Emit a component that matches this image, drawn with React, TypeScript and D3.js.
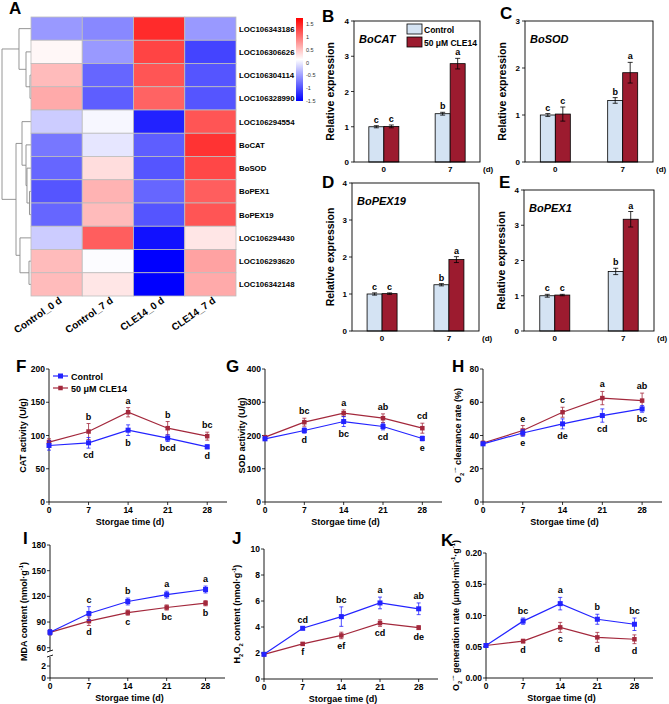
import React from 'react';
import * as d3 from 'd3';

const FONT = '"Liberation Sans", Arial, Helvetica, sans-serif';
const BLUE = '#2323ff';
const RED = '#a3283c';
const BAR_CTRL = '#d4e3f3';
const BAR_CLE = '#9c1b2f';

// ---------- A: heatmap ----------
const genes = [
  'LOC106343186', 'LOC106306626', 'LOC106304114', 'LOC106328990', 'LOC106294554',
  'BoCAT', 'BoSOD', 'BoPEX1', 'BoPEX19', 'LOC106294430', 'LOC106293620', 'LOC106342148',
];
const samples = ['Control_0 d', 'Control_7 d', 'CLE14_0 d', 'CLE14_7 d'];
const zRows = [
  [-0.6, -0.7, 1.25, -0.6],
  [0.05, -0.6, 1.1, -1.1],
  [0.4, -0.9, 1.0, -1.0],
  [0.5, -0.95, 0.92, -1.0],
  [-0.3, -0.05, -1.3, 1.0],
  [-0.8, -0.15, -0.95, 1.2],
  [-0.9, 0.2, -1.0, 1.08],
  [-1.0, 0.45, -0.9, 0.95],
  [-0.9, 0.4, -1.0, 1.0],
  [-0.3, 0.95, -1.4, 0.15],
  [0.4, -0.02, -1.5, 0.55],
  [0.4, 0.15, -1.5, 0.5],
];
const scaleTicks = [1.5, 1, 0.5, 0, -0.5, -1, -1.5];
// row clustering, h = merge height
const rowTree = {
  h: 10, children: [
    { h: 4.14, children: [{ leaf: 0 }, { h: 1.72, children: [{ leaf: 1 }, { h: 0.34, children: [{ leaf: 2 }, { leaf: 3 }] }] }] },
    { h: 5.17, children: [
      { h: 3.1, children: [{ leaf: 4 }, { h: 1.72, children: [{ leaf: 5 }, { h: 1.38, children: [{ leaf: 6 }, { h: 0.52, children: [{ leaf: 7 }, { leaf: 8 }] }] }] }] },
      { h: 3.8, children: [{ leaf: 9 }, { h: 0.69, children: [{ leaf: 10 }, { leaf: 11 }] }] },
    ] },
  ],
};

// ---------- B-E: relative expression ----------
const qDays = ['0', '7'];
const catCtrl = [1.0, 1.37], catCtrlErr = [0.03, 0.04], catCle = [1.01, 2.79], catCleErr = [0.04, 0.15];
const sodCtrl = [1.0, 1.31], sodCtrlErr = [0.03, 0.06], sodCle = [1.02, 1.9], sodCleErr = [0.15, 0.22];
const pex19Ctrl = [1.0, 1.25], pex19CtrlErr = [0.03, 0.03], pex19Cle = [1.01, 1.93], pex19CleErr = [0.02, 0.08];
const pex1Ctrl = [1.0, 1.69], pex1CtrlErr = [0.04, 0.09], pex1Cle = [1.02, 3.17], pex1CleErr = [0.02, 0.22];
const qCtrlSig = ['c', 'b'];
const qCleSig = ['c', 'a'];

// ---------- F-K: storage time ----------
const days = [0, 7, 14, 21, 28];
const catActCtrl = [85, 89, 108, 96, 83], catActCtrlErr = [7, 8, 8, 5, 3];
const catActCle = [90, 106, 135, 111, 99], catActCleErr = [5, 12, 7, 10, 6];
const catActCtrlSig = ['', 'cd', 'b', 'bcd', 'd'], catActCleSig = ['', 'b', 'a', 'b', 'bc'];

const sodActCtrl = [190, 215, 242, 227, 191], sodActCtrlErr = [5, 8, 15, 10, 7];
const sodActCle = [195, 240, 267, 252, 222], sodActCleErr = [5, 12, 10, 13, 15];
const sodActCtrlSig = ['', 'd', 'bc', 'cd', 'e'], sodActCleSig = ['', 'bc', 'a', 'ab', 'cd'];

const clearCtrl = [35, 41.5, 47, 52, 56], clearCtrlErr = [1, 2, 3, 4, 2];
const clearCle = [35.5, 43, 54, 62.5, 61], clearCleErr = [1, 3, 3, 4, 4.5];
const clearCtrlSig = ['', 'e', 'de', 'cd', 'bc'], clearCleSig = ['', 'e', 'c', 'a', 'ab'];

const mdaCtrl = [78, 100, 114, 122, 128], mdaCtrlErr = [3, 8, 4, 4, 4];
const mdaCle = [78, 91, 101, 107, 112], mdaCleErr = [3, 5, 3, 3, 3];
const mdaCtrlSig = ['', 'c', 'b', 'a', 'a'], mdaCleSig = ['', 'd', 'c', 'bc', 'b'];

const h2o2Ctrl = [1.9, 3.9, 4.8, 5.85, 5.4], h2o2CtrlErr = [0.08, 0.1, 0.75, 0.45, 0.45];
const h2o2Cle = [1.9, 2.7, 3.35, 4.3, 3.95], h2o2CleErr = [0.08, 0.1, 0.25, 0.25, 0.15];
const h2o2CtrlSig = ['', 'cd', 'bc', 'a', 'ab'], h2o2CleSig = ['', 'f', 'ef', 'cd', 'de'];

const o2genCtrl = [0.052, 0.091, 0.119, 0.094, 0.086], o2genCtrlErr = [0.002, 0.005, 0.01, 0.008, 0.01];
const o2genCle = [0.052, 0.059, 0.081, 0.065, 0.062], o2genCleErr = [0.002, 0.003, 0.008, 0.008, 0.007];
const o2genCtrlSig = ['', 'bc', 'a', 'b', 'bc'], o2genCleSig = ['', 'd', 'c', 'd', 'd'];

// rich label: segments with sub/sup
function Rich({ segs, size }) {
  const off = { n: 0, sub: 2.5, sup: -4 };
  let cur = 0;
  return (
    <>
      {segs.map((s, i) => {
        const k = s.sub ? 'sub' : s.sup ? 'sup' : 'n';
        const dy = off[k] - cur;
        cur = off[k];
        return (
          <tspan key={i} dy={dy} fontSize={k === 'n' ? size : size * 0.65}>{s.t}</tspan>
        );
      })}
    </>
  );
}

function Heatmap() {
  const x = d3.scaleBand().domain(samples).range([31, 236]);
  const y = d3.scaleBand().domain(genes).range([17, 296]);
  const color = d3.scaleLinear<string>().domain([-1.5, 0, 1.5]).range(['#0000ff', '#ffffff', '#ff0000']);
  const dx = d3.scaleLinear().domain([0, 10]).range([31, 2]);
  const root: any = d3.hierarchy(rowTree as any);
  root.eachAfter((n: any) => {
    if (n.data.leaf !== undefined) {
      n.px = 31;
      n.py = y(genes[n.data.leaf])! + y.bandwidth() / 2;
    } else {
      n.px = dx(n.data.h);
      n.py = d3.mean(n.children, (c: any) => c.py);
    }
  });
  const paths: string[] = [];
  root.each((n: any) => {
    if (n.children) {
      const [a, b] = n.children;
      paths.push(`M${a.px},${a.py}H${n.px}V${b.py}H${b.px}`);
    }
  });
  const cb = d3.scaleLinear().domain([-1.5, 1.5]).range([101, 24]);
  return (
    <g>
      <defs>
        <linearGradient id="hmgrad" x1="0" y1="0" x2="0" y2="1">
          <stop offset="0%" stopColor="#ff0000" />
          <stop offset="50%" stopColor="#ffffff" />
          <stop offset="100%" stopColor="#0000ff" />
        </linearGradient>
      </defs>
      {paths.map((d, i) => <path key={i} d={d} fill="none" stroke="#8a8a8a" strokeWidth={0.9} />)}
      {zRows.map((row, ri) => row.map((v, ci) => (
        <rect key={`${ri}-${ci}`} x={x(samples[ci])} y={y(genes[ri])} width={x.bandwidth()} height={y.bandwidth()}
          fill={color(v)} stroke="#bdbdbd" strokeWidth={0.8} />
      )))}
      {genes.map(g => (
        <text key={g} x={239} y={y(g)! + y.bandwidth() / 2 + 3} fontSize={7.8} fontWeight="bold" fontFamily={FONT}>{g}</text>
      ))}
      {samples.map(s => {
        const cx = x(s)! + x.bandwidth() / 2 + 6;
        return (
          <text key={s} transform={`translate(${cx},302) rotate(-35)`} textAnchor="end" fontSize={10} fontWeight="bold" fontFamily={FONT}>{s}</text>
        );
      })}
      <rect x={296} y={18} width={7} height={83} fill="url(#hmgrad)" />
      {scaleTicks.map(t => (
        <text key={t} x={306} y={cb(t) + 2} fontSize={5.5} fontFamily={FONT} fill="#333">{t}</text>
      ))}
    </g>
  );
}

function BarPanel({ left, right, top, bottom, yMax, name, ctrl, ctrlErr, cle, cleErr, legend, ylabelX }: any) {
  const x = d3.scalePoint().domain(qDays).range([left, right]).padding(0.45);
  const y = d3.scaleLinear().domain([0, yMax]).range([bottom, top]);
  const bw = 15;
  const ticks = d3.range(0, yMax + 1);
  const err = (cx: number, v: number, e: number) => (
    <g stroke="#000" strokeWidth={0.8}>
      <line x1={cx} x2={cx} y1={y(v + e)} y2={y(v - e)} />
      <line x1={cx - 2.5} x2={cx + 2.5} y1={y(v + e)} y2={y(v + e)} />
      <line x1={cx - 2.5} x2={cx + 2.5} y1={y(v - e)} y2={y(v - e)} />
    </g>
  );
  return (
    <g fontFamily={FONT} fontWeight="bold">
      {qDays.map((d, i) => {
        const cx = x(d)!;
        return (
          <g key={d}>
            <rect x={cx - bw} y={y(ctrl[i])} width={bw} height={bottom - y(ctrl[i])} fill={BAR_CTRL} stroke="#000" strokeWidth={0.8} />
            <rect x={cx} y={y(cle[i])} width={bw} height={bottom - y(cle[i])} fill={BAR_CLE} stroke="#000" strokeWidth={0.8} />
            {err(cx - bw / 2, ctrl[i], ctrlErr[i])}
            {err(cx + bw / 2, cle[i], cleErr[i])}
            <text x={cx - bw / 2} y={y(ctrl[i] + ctrlErr[i]) - 3} textAnchor="middle" fontSize={9}>{qCtrlSig[i]}</text>
            <text x={cx + bw / 2} y={y(cle[i] + cleErr[i]) - 3} textAnchor="middle" fontSize={9}>{qCleSig[i]}</text>
            <text x={cx} y={bottom + 10} textAnchor="middle" fontSize={8}>{d}</text>
          </g>
        );
      })}
      <rect x={left} y={top} width={right - left} height={bottom - top} fill="none" stroke="#000" strokeWidth={0.9} />
      {ticks.map(t => (
        <g key={t}>
          <line x1={left - 3} x2={left} y1={y(t)} y2={y(t)} stroke="#000" strokeWidth={0.8} />
          <text x={left - 5} y={y(t) + 3} textAnchor="end" fontSize={8}>{t}</text>
        </g>
      ))}
      <text x={right + 3} y={bottom + 10} fontSize={8}>(d)</text>
      <text x={left + 5} y={top + 22} fontSize={11} fontStyle="italic">{name}</text>
      <text transform={`translate(${ylabelX},${(top + bottom) / 2}) rotate(-90)`} textAnchor="middle" fontSize={10.5}>Relative expression</text>
      {legend && (
        <g>
          <rect x={407} y={top + 3} width={15} height={10} fill={BAR_CTRL} stroke="#000" strokeWidth={0.8} />
          <rect x={407} y={top + 16} width={15} height={10} fill={BAR_CLE} stroke="#000" strokeWidth={0.8} />
          <text x={424} y={top + 12} fontSize={8.5}>Control</text>
          <text x={424} y={top + 25} fontSize={8.5}>50 μM CLE14</text>
        </g>
      )}
    </g>
  );
}

function LinePanel(p: any) {
  const x = d3.scaleLinear().domain([0, 31.5]).range([p.left, p.right]);
  let y: (v: number) => number;
  let tickPos: { v: number; label: string }[];
  if (p.broken) {
    const up = d3.scaleLinear().domain([55, 180]).range([652, p.top]);
    const lo = d3.scaleLinear().domain([0, 3]).range([p.bottom, 660]);
    y = v => (v >= 50 ? up(v) : lo(v));
    tickPos = [...[0, 2], ...[60, 90, 120, 150, 180]].map(v => ({ v, label: String(v) }));
  } else {
    const s = d3.scaleLinear().domain(p.yDomain).range([p.bottom, p.top]);
    y = s;
    tickPos = p.yTicks.map((v: number) => ({ v, label: p.fmt ? p.fmt(v) : String(v) }));
  }
  const line = d3.line<number>().x((_, i) => x(days[i])).y(v => y(v));
  const series = [
    { vals: p.cle, errs: p.cleErr, sig: p.cleSig, color: RED, above: p.upper === 'cle', size: 4.5 },
    { vals: p.ctrl, errs: p.ctrlErr, sig: p.ctrlSig, color: BLUE, above: p.upper === 'ctrl', size: 5 },
  ];
  return (
    <g fontFamily={FONT} fontWeight="bold">
      {p.broken ? (
        <g stroke="#000" strokeWidth={0.9}>
          <line x1={p.left} x2={p.left} y1={p.top} y2={651} />
          <line x1={p.left} x2={p.left} y1={657} y2={p.bottom} />
          <line x1={p.left - 3} x2={p.left + 3} y1={652} y2={650} />
          <line x1={p.left - 3} x2={p.left + 3} y1={657} y2={655} />
        </g>
      ) : (
        <line x1={p.left} x2={p.left} y1={p.top} y2={p.bottom} stroke="#000" strokeWidth={0.9} />
      )}
      <line x1={p.left} x2={p.right} y1={p.bottom} y2={p.bottom} stroke="#000" strokeWidth={0.9} />
      {tickPos.map(t => (
        <g key={t.v}>
          <line x1={p.left - 3} x2={p.left} y1={y(t.v)} y2={y(t.v)} stroke="#000" strokeWidth={0.8} />
          <text x={p.left - 4} y={y(t.v) + 3} textAnchor="end" fontSize={8.5}>{t.label}</text>
        </g>
      ))}
      {days.map(d => (
        <g key={d}>
          <line x1={x(d)} x2={x(d)} y1={p.bottom} y2={p.bottom + 3} stroke="#000" strokeWidth={0.8} />
          <text x={x(d)} y={p.bottom + 11} textAnchor="middle" fontSize={8.5}>{d}</text>
        </g>
      ))}
      <text x={(p.left + p.right) / 2 - 8} y={p.bottom + 23} textAnchor="middle" fontSize={9}>Storgae time (d)</text>
      <text transform={`translate(${p.ylabelX},${(p.top + p.bottom) / 2}) rotate(-90)`} textAnchor="middle" fontSize={9}>
        <Rich segs={p.ylabel} size={9} />
      </text>
      {series.map((s, si) => (
        <g key={si}>
          <path d={line(s.vals)!} fill="none" stroke={s.color} strokeWidth={1.2} />
          {s.vals.map((v: number, i: number) => {
            const cx = x(days[i]);
            const e = s.errs[i];
            return (
              <g key={i}>
                <g stroke={s.color} strokeWidth={0.8}>
                  <line x1={cx} x2={cx} y1={y(v + e)} y2={y(v - e)} />
                  <line x1={cx - 2} x2={cx + 2} y1={y(v + e)} y2={y(v + e)} />
                  <line x1={cx - 2} x2={cx + 2} y1={y(v - e)} y2={y(v - e)} />
                </g>
                <rect x={cx - s.size / 2} y={y(v) - s.size / 2} width={s.size} height={s.size} fill={s.color} />
                {s.sig[i] && (
                  <text x={cx} y={s.above ? y(v + e) - 4 : y(v - e) + 10} textAnchor="middle" fontSize={9}>{s.sig[i]}</text>
                )}
              </g>
            );
          })}
        </g>
      ))}
      {p.legend && (
        <g>
          <line x1={p.left + 4} x2={p.left + 19} y1={p.top + 7} y2={p.top + 7} stroke={BLUE} strokeWidth={1.2} />
          <rect x={p.left + 9} y={p.top + 4.5} width={5} height={5} fill={BLUE} />
          <text x={p.left + 22} y={p.top + 10.5} fontSize={9}>Control</text>
          <line x1={p.left + 4} x2={p.left + 19} y1={p.top + 19} y2={p.top + 19} stroke={RED} strokeWidth={1.2} />
          <rect x={p.left + 9.25} y={p.top + 16.75} width={4.5} height={4.5} fill={RED} />
          <text x={p.left + 22} y={p.top + 22.5} fontSize={9}>50 μM CLE14</text>
        </g>
      )}
    </g>
  );
}

function PanelLetter({ x, y, t }: any) {
  return <text x={x} y={y} fontSize={17} fontWeight="bold" fontFamily={FONT}>{t}</text>;
}

export default function App() {
  const o2 = [{ t: 'O' }, { t: '2', sub: true }, { t: '·−', sup: true }];
  return (
    <svg width={669} height={704} style={{ position: 'absolute', left: 0, top: 0, background: '#fff' }}>
      <rect width={669} height={704} fill="#fff" />
      <Heatmap />
      <BarPanel left={354} right={480} top={21} bottom={162} yMax={4} name="BoCAT" ctrl={catCtrl} ctrlErr={catCtrlErr} cle={catCle} cleErr={catCleErr} legend ylabelX={334} />
      <BarPanel left={525} right={653} top={21} bottom={162} yMax={3} name="BoSOD" ctrl={sodCtrl} ctrlErr={sodCtrlErr} cle={sodCle} cleErr={sodCleErr} ylabelX={506} />
      <BarPanel left={352} right={479} top={183} bottom={331} yMax={4} name="BoPEX19" ctrl={pex19Ctrl} ctrlErr={pex19CtrlErr} cle={pex19Cle} cleErr={pex19CleErr} ylabelX={334} />
      <BarPanel left={524} right={654} top={190} bottom={331} yMax={4} name="BoPEX1" ctrl={pex1Ctrl} ctrlErr={pex1CtrlErr} cle={pex1Cle} cleErr={pex1CleErr} ylabelX={505} />

      <LinePanel left={49} right={227} top={369} bottom={502} yDomain={[0, 200]} yTicks={[0, 50, 100, 150, 200]}
        ctrl={catActCtrl} ctrlErr={catActCtrlErr} cle={catActCle} cleErr={catActCleErr} ctrlSig={catActCtrlSig} cleSig={catActCleSig}
        upper="cle" ylabelX={26} ylabel={[{ t: 'CAT activity (U/g)' }]} legend />
      <LinePanel left={265} right={442} top={369} bottom={502} yDomain={[0, 400]} yTicks={[0, 100, 200, 300, 400]}
        ctrl={sodActCtrl} ctrlErr={sodActCtrlErr} cle={sodActCle} cleErr={sodActCleErr} ctrlSig={sodActCtrlSig} cleSig={sodActCleSig}
        upper="cle" ylabelX={245} ylabel={[{ t: 'SOD activity (U/g)' }]} />
      <LinePanel left={483} right={662} top={369} bottom={502} yDomain={[0, 80]} yTicks={[0, 20, 40, 60, 80]}
        ctrl={clearCtrl} ctrlErr={clearCtrlErr} cle={clearCle} cleErr={clearCleErr} ctrlSig={clearCtrlSig} cleSig={clearCleSig}
        upper="cle" ylabelX={461} ylabel={[...o2, { t: ' clearance rate  (%)' }]} />

      <LinePanel left={50} right={225} top={545} bottom={678} broken
        ctrl={mdaCtrl} ctrlErr={mdaCtrlErr} cle={mdaCle} cleErr={mdaCleErr} ctrlSig={mdaCtrlSig} cleSig={mdaCleSig}
        upper="ctrl" ylabelX={27} ylabel={[{ t: 'MDA content (nmol·g' }, { t: '-1', sup: true }, { t: ')' }]} />
      <LinePanel left={264} right={438} top={549} bottom={679} yDomain={[0, 10]} yTicks={[0, 2, 4, 6, 8, 10]}
        ctrl={h2o2Ctrl} ctrlErr={h2o2CtrlErr} cle={h2o2Cle} cleErr={h2o2CleErr} ctrlSig={h2o2CtrlSig} cleSig={h2o2CleSig}
        upper="ctrl" ylabelX={240}
        ylabel={[{ t: 'H' }, { t: '2', sub: true }, { t: 'O' }, { t: '2', sub: true }, { t: ' content (nmol·g' }, { t: '-1', sup: true }, { t: ')' }]} />
      <LinePanel left={486} right={653} top={553} bottom={678} yDomain={[0, 0.2]} yTicks={[0, 0.05, 0.1, 0.15, 0.2]} fmt={d3.format('.2f')}
        ctrl={o2genCtrl} ctrlErr={o2genCtrlErr} cle={o2genCle} cleErr={o2genCleErr} ctrlSig={o2genCtrlSig} cleSig={o2genCleSig}
        upper="ctrl" ylabelX={459}
        ylabel={[...o2, { t: ' generation rate (μmol·min' }, { t: '-1', sup: true }, { t: '·g' }, { t: '-1', sup: true }, { t: ')' }]} />

      <PanelLetter x={9} y={14} t="A" />
      <PanelLetter x={322} y={22} t="B" />
      <PanelLetter x={500} y={19} t="C" />
      <PanelLetter x={322} y={188} t="D" />
      <PanelLetter x={499} y={188} t="E" />
      <PanelLetter x={16} y={372} t="F" />
      <PanelLetter x={226} y={372} t="G" />
      <PanelLetter x={452} y={372} t="H" />
      <PanelLetter x={23} y={544} t="I" />
      <PanelLetter x={232} y={544} t="J" />
      <PanelLetter x={441} y={546} t="K" />
    </svg>
  );
}
